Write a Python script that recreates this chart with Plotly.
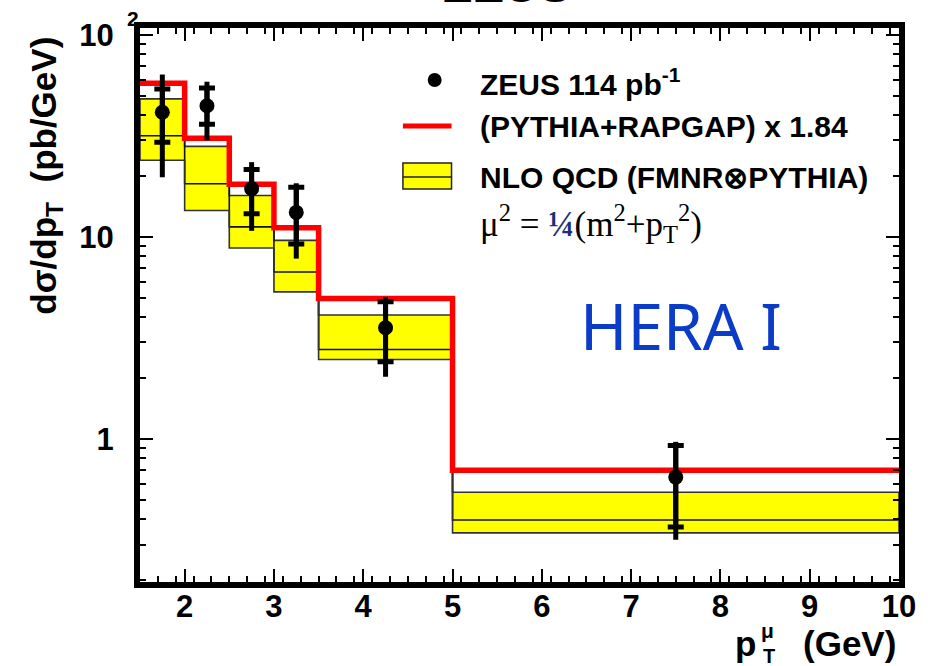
import plotly.graph_objects as go

# ---- NLO QCD band and MC prediction per p_T bin ----
bin_edges = [1.5, 2.0, 2.5, 3.0, 3.5, 5.0, 10.0]
pythia_rapgap = [57.5, 30.7, 18.2, 11.1, 4.95, 0.70]      # (PYTHIA+RAPGAP) x 1.84
nlo_central = [31.6, 18.3, 11.2, 6.7, 2.77, 0.397]
nlo_upper = [48.1, 28.0, 16.0, 9.6, 4.10, 0.545]
nlo_lower = [23.9, 13.5, 8.8, 5.34, 2.47, 0.343]

# ---- ZEUS measurement ----
pt_mu = [1.75, 2.25, 2.75, 3.25, 4.25, 7.5]
xsec = [41.3, 44.5, 17.3, 13.2, 3.55, 0.647]
stat_hi = [12.6, 10.0, 4.2, 4.4, 1.22, 0.28]
stat_lo = [11.9, 8.5, 4.3, 4.0, 1.14, 0.28]
tot_hi = [22.2, 14.0, 6.1, 5.2, 1.49, 0.32]
tot_lo = [21.6, 14.5, 6.6, 5.4, 1.52, 0.33]

x_ticks = [2, 3, 4, 5, 6, 7, 8, 9, 10]
y_ticks = [1, 10, 100]
y_ticktext = ["1", "10", "10"]
y_minor = [m * d for d in (0.1, 1, 10) for m in range(2, 10)]

# figure geometry (pixels) used to place free text
W, H = 928, 666
L, R, T, B = 140, 23, 28, 84
pw, ph = W - L - R, H - T - B


def px(x):
    return (x - L) / pw


def py(y):
    return (H - B - y) / ph


FONT = "Liberation Sans"
fig = go.Figure()

# yellow NLO band, one box per bin
bx, by = [], []
for i in range(len(nlo_central)):
    lo, hi = bin_edges[i], bin_edges[i + 1]
    bx += [lo, hi, hi, lo, lo, None]
    by += [nlo_lower[i], nlo_lower[i], nlo_upper[i], nlo_upper[i], nlo_lower[i], None]
fig.add_trace(go.Scatter(x=bx, y=by, mode="lines", fill="toself",
                         fillcolor="#ffff00", line=dict(width=0),
                         hoverinfo="skip", showlegend=False))

# band outlines drawn as step histograms
for vals, col in ((nlo_upper, "#333333"), (nlo_central, "#111111"), (nlo_lower, "#333333")):
    fig.add_trace(go.Scatter(x=bin_edges, y=vals + [vals[-1]], mode="lines",
                             line=dict(shape="hv", width=1.6, color=col),
                             hoverinfo="skip", showlegend=False))
# closing vertical edges of the band
for xe, i in ((bin_edges[0], 0), (bin_edges[-1], -1)):
    fig.add_trace(go.Scatter(x=[xe, xe], y=[nlo_lower[i], nlo_upper[i]], mode="lines",
                             line=dict(width=1.6, color="#333333"),
                             hoverinfo="skip", showlegend=False))

# MC step histogram
fig.add_trace(go.Scatter(x=bin_edges, y=pythia_rapgap + [pythia_rapgap[-1]], mode="lines",
                         line=dict(shape="hv", width=5.5, color="#ff0000"),
                         hoverinfo="skip", showlegend=False))

# data: total uncertainty (no caps), statistical (with caps), markers
fig.add_trace(go.Scatter(x=pt_mu, y=xsec, mode="markers", marker=dict(size=1, color="black"),
                         error_y=dict(type="data", array=tot_hi, arrayminus=tot_lo,
                                      color="black", thickness=5, width=0),
                         showlegend=False))
fig.add_trace(go.Scatter(x=pt_mu, y=xsec, mode="markers",
                         marker=dict(size=15, color="black", symbol="circle"),
                         error_y=dict(type="data", array=stat_hi, arrayminus=stat_lo,
                                      color="black", thickness=5, width=8),
                         showlegend=False))

shapes = [
    # legend symbols
    dict(type="circle", xref="paper", yref="paper", x0=px(430), x1=px(444), y0=py(73), y1=py(87),
         fillcolor="black", line=dict(width=0)),
    dict(type="line", xref="paper", yref="paper", x0=px(405), x1=px(454), y0=py(126), y1=py(126),
         line=dict(color="#ff0000", width=5)),
    dict(type="rect", xref="paper", yref="paper", x0=px(405), x1=px(454), y0=py(189), y1=py(163),
         fillcolor="#ffff00", line=dict(color="#222222", width=1.5)),
    dict(type="line", xref="paper", yref="paper", x0=px(405), x1=px(454), y0=py(177), y1=py(177),
         line=dict(color="#222222", width=1.5)),
]

bold = dict(family=FONT, color="black", weight="bold")


def txt(text, x, y, size, xanchor="left", yanchor="middle", **kw):
    f = dict(bold, size=size)
    f.update(kw.pop("font", {}))
    return dict(text=text, x=px(x), y=py(y), xref="paper", yref="paper", showarrow=False,
                xanchor=xanchor, yanchor=yanchor, font=f, **kw)


annotations = [
    txt("ZEUS", 510, 13.5, 48, xanchor="center", yanchor="bottom"),
    txt("ZEUS 114 pb<sup>-1</sup>", 481, 82, 30),
    txt("(PYTHIA+RAPGAP) x 1.84", 481, 127, 30),
    txt("NLO QCD (FMNR\u2297PYTHIA)", 481, 177, 30),
    txt("\u03bc<sup>2</sup> = <span style='color:#1b2f7a'><b>\u00bc</b></span>(m<sup>2</sup>+p<sub>T</sub><sup>2</sup>)",
        481, 223, 35, font=dict(family="Liberation Serif", weight="normal")),
    txt("HERA I", 685, 325, 64, xanchor="center",
        font=dict(family="Noto Sans", weight="normal", color="#0a3cc8")),
    # y-axis title
    txt("d\u03c3/dp<sub>T</sub>  (pb/GeV)", 45, 176, 35, xanchor="center", textangle=-90),
    # superscript of the 10^2 label
    txt("2", 133, 19, 21, xanchor="center"),
    # x-axis title
    txt("p", 763, 643, 35, xanchor="right"),
    txt("\u03bc", 764, 630, 21),
    txt("T", 766, 656, 20),
    txt("(GeV)", 904, 643, 35, xanchor="right"),
]

axis_common = dict(showline=True, linewidth=6, linecolor="black", mirror="ticks",
                   ticks="inside", tickcolor="black", tickwidth=1.5, showgrid=False,
                   zeroline=False, tickfont=dict(family=FONT, size=31, color="black", weight="bold"))

fig.update_layout(
    width=W, height=H,
    margin=dict(l=L, r=R, t=T, b=B),
    paper_bgcolor="white", plot_bgcolor="white",
    showlegend=False,
    shapes=shapes, annotations=annotations,
    xaxis=dict(range=[1.5, 10], tickmode="array", tickvals=x_ticks, ticklen=13,
               ticklabelstandoff=-8,
               minor=dict(dtick=0.2, tick0=1.5, ticks="inside", ticklen=6, tickwidth=1.5,
                          tickcolor="black", showgrid=False),
               **axis_common),
    yaxis=dict(type="log", range=[-0.708, 2.033], tickmode="array", tickvals=y_ticks,
               ticktext=y_ticktext, ticklen=13, ticklabelstandoff=14,
               minor=dict(tickmode="array", tickvals=y_minor, ticks="inside", ticklen=6,
                          tickwidth=1.5, tickcolor="black", showgrid=False),
               **axis_common),
)

fig.write_html("out.html")
